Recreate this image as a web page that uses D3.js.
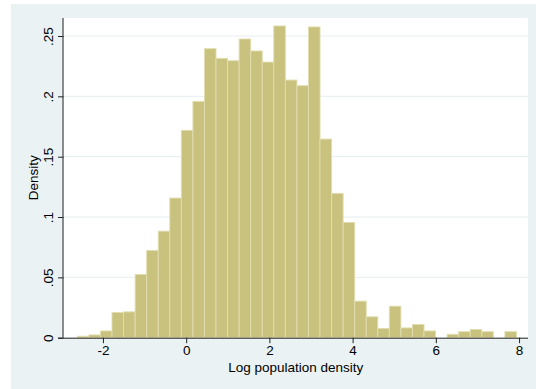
<!DOCTYPE html>
<html>
<head>
<meta charset="utf-8">
<script src="https://cdn.jsdelivr.net/npm/d3@7"></script>
<style>
  html, body { margin: 0; padding: 0; background: #ffffff; }
  svg { display: block; }
  text { font-family: "Liberation Sans", Arial, sans-serif; fill: #000; }
</style>
</head>
<body>
<svg id="chart" width="536" height="389"></svg>
<script>
// Histogram of log population density (uniform bins)
const binStart = -2.615;
const binWidth = 0.2777;
const densities = [
  0.0012, 0.0023, 0.0056, 0.0209, 0.0214, 0.0524, 0.0723, 0.0883, 0.1157, 0.1718,
  0.1958, 0.2395, 0.2315, 0.2295, 0.2475, 0.2376, 0.2284, 0.2583, 0.2135, 0.2088,
  0.2575, 0.1646, 0.1196, 0.0955, 0.0303, 0.0173, 0.0076, 0.0261, 0.0081, 0.0109,
  0.0056, 0, 0.0028, 0.0050, 0.0068, 0.0050, 0, 0.0050
];
const xTicks = [-2, 0, 2, 4, 6, 8];
const xTickLabels = ["-2", "0", "2", "4", "6", "8"];
const yTicks = [0, 0.05, 0.1, 0.15, 0.2, 0.25];
const yTickLabels = ["0", ".05", ".1", ".15", ".2", ".25"];
const xTitle = "Log population density";
const yTitle = "Density";

const bins = densities.map((d, i) => ({
  x0: binStart + i * binWidth,
  x1: binStart + (i + 1) * binWidth,
  density: d
}));

const svg = d3.select("#chart");
const W = 536, H = 389;
const plot = { left: 63.5, right: 528, top: 18, bottom: 337.7 };

// graph region background
svg.append("rect").attr("x", 11).attr("y", 4).attr("width", W - 11).attr("height", H - 4)
  .attr("fill", "#eaf2f3");
// plot region
svg.append("rect").attr("x", plot.left).attr("y", plot.top)
  .attr("width", plot.right - plot.left).attr("height", plot.bottom - plot.top)
  .attr("fill", "#ffffff");

const x = d3.scaleLinear().domain([-2.948, 8.215]).range([plot.left, plot.right]);
const yPxPerUnit = (plot.bottom - 36) / 0.25;
const y = d3.scaleLinear().domain([0, (plot.bottom - plot.top) / yPxPerUnit]).range([plot.bottom, plot.top]);

// horizontal grid lines
svg.append("g").selectAll("line").data(yTicks.filter(v => v > 0)).join("line")
  .attr("x1", plot.left).attr("x2", plot.right)
  .attr("y1", d => y(d)).attr("y2", d => y(d))
  .attr("stroke", "#e6eef0").attr("stroke-width", 1);

// bars
svg.append("g").selectAll("rect").data(bins.filter(b => b.density > 0)).join("rect")
  .attr("x", d => x(d.x0))
  .attr("width", d => x(d.x1) - x(d.x0))
  .attr("y", d => y(d.density))
  .attr("height", d => y(0) - y(d.density))
  .attr("fill", "#c8c27e")
  .attr("stroke", "#e2ddb0")
  .attr("stroke-width", 0.9);

// x axis
const xAxis = d3.axisBottom(x).tickValues(xTicks)
  .tickFormat((d, i) => xTickLabels[i]).tickSize(5.5).tickPadding(2);
const gx = svg.append("g").attr("transform", `translate(0,${plot.bottom})`).call(xAxis);
gx.select(".domain").attr("d", `M${plot.left - 5.5},0.5H${plot.right}`).attr("stroke", "#222");
gx.selectAll(".tick line").attr("stroke", "#222");
gx.selectAll(".tick text").attr("font-size", 13.5).attr("font-family", "Liberation Sans, Arial, sans-serif")
  .attr("fill", "#000");

// y axis
const yAxis = d3.axisLeft(y).tickValues(yTicks)
  .tickFormat((d, i) => yTickLabels[i]).tickSize(5.5).tickPadding(0);
const gy = svg.append("g").attr("transform", `translate(${plot.left},0)`).call(yAxis);
gy.select(".domain").attr("d", `M-0.5,${plot.top}V${plot.bottom}`).attr("stroke", "#222");
gy.selectAll(".tick line").attr("stroke", "#222");
gy.selectAll(".tick text")
  .attr("font-size", 13.5).attr("font-family", "Liberation Sans, Arial, sans-serif").attr("fill", "#000")
  .attr("x", null).attr("dy", null)
  .attr("text-anchor", "middle")
  .attr("transform", "translate(-11,0) rotate(-90)");

// axis titles
svg.append("text").attr("x", (plot.left + plot.right) / 2).attr("y", 372.3)
  .attr("text-anchor", "middle").attr("font-size", 13.5).text(xTitle);
svg.append("text").attr("transform", `translate(38.3,${(plot.top + plot.bottom) / 2}) rotate(-90)`)
  .attr("text-anchor", "middle").attr("font-size", 13.5).text(yTitle);
</script>
</body>
</html>
